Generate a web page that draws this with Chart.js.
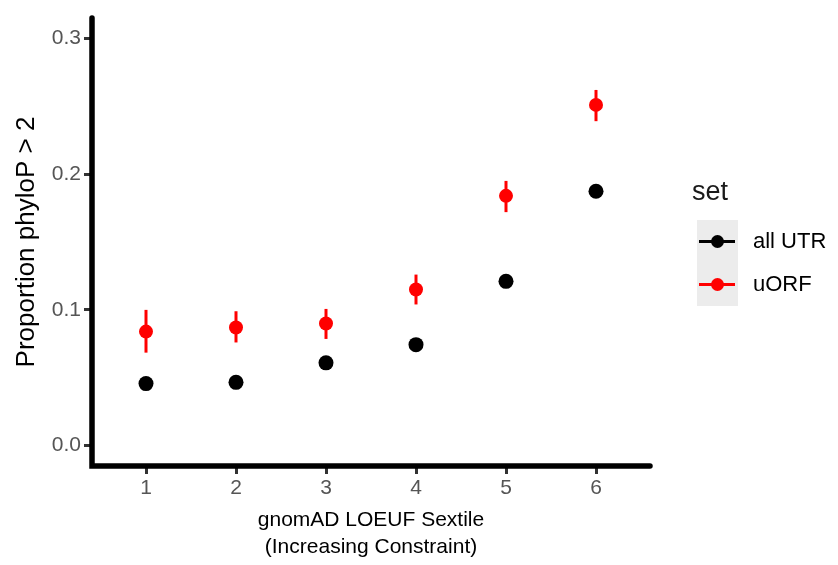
<!DOCTYPE html>
<html>
<head>
<meta charset="utf-8">
<script src="https://cdn.jsdelivr.net/npm/chart.js@4.4.0/dist/chart.umd.min.js"></script>
<style>
  body { margin: 0; background: #fff; }
</style>
</head>
<body>
<canvas id="phylop" width="838" height="565"></canvas>
<script>
// gnomAD LOEUF sextile vs proportion of sites with phyloP > 2
const sextiles = [1, 2, 3, 4, 5, 6];
const yTicks = [0, 0.1, 0.2, 0.3];
const setNames = ['all UTR', 'uORF'];

const allUtr     = [0.0457, 0.0466, 0.0610, 0.0744, 0.1210, 0.1874];
const allUtrLow  = [0.0445, 0.0455, 0.0598, 0.0730, 0.1195, 0.1855];
const allUtrHigh = [0.0469, 0.0477, 0.0622, 0.0758, 0.1225, 0.1893];

const uorf     = [0.084, 0.087, 0.090, 0.115, 0.184, 0.251];
const uorfLow  = [0.0685, 0.076, 0.0786, 0.104, 0.172, 0.239];
const uorfHigh = [0.100, 0.099, 0.1007, 0.126, 0.195, 0.262];

const colors = ['#000000', '#ff0000'];
const FONT = 'Arial, "Liberation Sans", sans-serif';

function toPoints(vals) {
  return vals.map((v, i) => ({ x: sextiles[i], y: v }));
}

const errorBars = {
  id: 'errorBars',
  beforeDatasetsDraw(chart) {
    const ctx = chart.ctx;
    const xs = chart.scales.x, ys = chart.scales.y;
    chart.data.datasets.forEach(ds => {
      ctx.save();
      ctx.strokeStyle = ds.backgroundColor;
      ctx.lineWidth = 3;
      ds.data.forEach((p, i) => {
        const px = xs.getPixelForValue(p.x);
        ctx.beginPath();
        ctx.moveTo(px, ys.getPixelForValue(ds.low[i]));
        ctx.lineTo(px, ys.getPixelForValue(ds.high[i]));
        ctx.stroke();
      });
      ctx.restore();
    });
  }
};

// ggplot style thick axis lines
const axisLines = {
  id: 'axisLines',
  afterDraw(chart) {
    const { ctx, chartArea: a } = chart;
    ctx.save();
    ctx.strokeStyle = '#000';
    ctx.lineWidth = 5.5;
    ctx.lineCap = 'round';
    ctx.lineJoin = 'miter';
    ctx.beginPath();
    ctx.moveTo(a.left, a.top);
    ctx.lineTo(a.left, a.bottom);
    ctx.lineTo(a.right, a.bottom);
    ctx.stroke();
    ctx.restore();
  }
};

const sideLegend = {
  id: 'sideLegend',
  afterDraw(chart) {
    const ctx = chart.ctx;
    ctx.save();
    ctx.fillStyle = '#1a1a1a';
    ctx.font = '27px ' + FONT;
    ctx.textBaseline = 'middle';
    ctx.fillText('set', 692, 193);
    const boxX = 697, boxW = 41, boxH = 43, top0 = 220;
    chart.data.datasets.forEach((ds, i) => {
      const by = top0 + i * boxH;
      const cy = by + boxH / 2;
      ctx.fillStyle = '#ececec';
      ctx.fillRect(boxX, by, boxW, boxH);
      ctx.strokeStyle = ds.backgroundColor;
      ctx.lineWidth = 3;
      ctx.beginPath();
      ctx.moveTo(boxX + 2, cy);
      ctx.lineTo(boxX + boxW - 3, cy);
      ctx.stroke();
      ctx.fillStyle = ds.backgroundColor;
      ctx.beginPath();
      ctx.arc(boxX + boxW / 2, cy, 6.5, 0, Math.PI * 2);
      ctx.fill();
      ctx.fillStyle = '#000';
      ctx.font = '22px ' + FONT;
      ctx.fillText(ds.label, 753, cy);
    });
    ctx.restore();
  }
};

const ctx = document.getElementById('phylop');
new Chart(ctx, {
  type: 'scatter',
  data: {
    datasets: [
      {
        label: setNames[0],
        data: toPoints(allUtr),
        low: allUtrLow,
        high: allUtrHigh,
        backgroundColor: colors[0],
        borderColor: colors[0],
        pointRadius: 7.5,
        borderWidth: 0
      },
      {
        label: setNames[1],
        data: toPoints(uorf),
        low: uorfLow,
        high: uorfHigh,
        backgroundColor: colors[1],
        borderColor: colors[1],
        pointRadius: 7,
        borderWidth: 0
      }
    ]
  },
  options: {
    responsive: false,
    animation: false,
    events: [],
    layout: { padding: { top: 18, right: 188, left: 0, bottom: 0 } },
    plugins: { legend: { display: false }, tooltip: { enabled: false } },
    scales: {
      x: {
        type: 'linear',
        min: 0.4,
        max: 6.6,
        afterBuildTicks: scale => { scale.ticks = sextiles.map(v => ({ value: v })); },
        afterFit: scale => { scale.height = 99; },
        border: { display: false },
        grid: { drawOnChartArea: false, drawTicks: true, tickLength: 8, tickWidth: 3, tickColor: '#333' },
        ticks: { color: '#555', padding: 2, font: { size: 21, family: FONT }, callback: v => String(v) },
        title: {
          display: true,
          text: ['gnomAD LOEUF Sextile', '(Increasing Constraint)'],
          color: '#000',
          font: { size: 21, family: FONT, lineHeight: 1.31 },
          padding: { top: 0, bottom: 4 }
        }
      },
      y: {
        min: -0.015,
        max: 0.315,
        afterBuildTicks: scale => { scale.ticks = yTicks.map(v => ({ value: v })); },
        afterFit: scale => { scale.width = 92; },
        border: { display: false },
        grid: { drawOnChartArea: false, drawTicks: true, tickLength: 8, tickWidth: 3, tickColor: '#333' },
        ticks: { color: '#555', padding: 3, font: { size: 21, family: FONT }, callback: v => v.toFixed(1) },
        title: {
          display: true,
          text: 'Proportion phyloP > 2',
          color: '#000',
          font: { size: 26, family: FONT, lineHeight: 1.2 },
          padding: { top: 11, bottom: 0 }
        }
      }
    }
  },
  plugins: [errorBars, axisLines, sideLegend]
});
</script>
</body>
</html>
